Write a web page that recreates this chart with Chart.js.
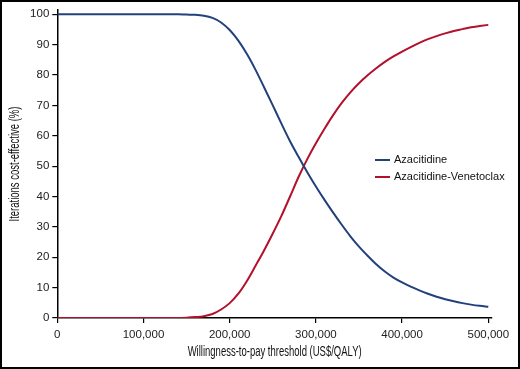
<!DOCTYPE html>
<html>
<head>
<meta charset="utf-8">
<script src="https://cdn.jsdelivr.net/npm/chart.js@4/dist/chart.umd.min.js"></script>
<style>
  html, body { margin: 0; padding: 0; background: #fff; }
  #wrap { position: relative; width: 520px; height: 369px; box-sizing: border-box; border: 2px solid #000; }
  canvas { position: absolute; left: -2px; top: -2px; }
</style>
</head>
<body>
<div id="wrap"><canvas id="c" width="520" height="369"></canvas></div>
<script>
// Willingness-to-pay thresholds (US$/QALY)
const wtp = [0,10000,20000,30000,40000,50000,60000,70000,80000,90000,
  100000,110000,120000,130000,140000,150000,160000,170000,180000,190000,
  200000,210000,220000,230000,240000,250000,260000,270000,280000,290000,
  300000,310000,320000,330000,340000,350000,360000,370000,380000,390000,
  400000,410000,420000,430000,440000,450000,460000,470000,480000,490000,500000];

// % iterations cost-effective
const azacitidine = [100,100,100,100,100,100,100,100,100,100,
  100,100,100,100,100,99.9,99.8,99.5,98.8,97.3,
  94.8,91.3,86.9,81.7,75.9,70.0,64.0,58.2,53.0,48.0,
  43.3,38.9,34.7,30.7,26.9,23.5,20.5,17.7,15.3,13.3,
  11.7,10.3,9.1,8.0,7.0,6.2,5.5,4.9,4.4,4.0,3.7];

const azaVen = [0,0,0,0,0,0,0,0,0,0,
  0,0,0,0,0,0.1,0.3,0.6,1.3,2.8,
  4.9,8.0,12.2,17.2,22.3,27.8,33.6,40.0,46.5,52.3,
  57.5,62.3,66.8,70.8,74.3,77.3,79.9,82.2,84.3,86.1,
  87.7,89.2,90.6,91.8,92.8,93.7,94.5,95.1,95.7,96.1,96.5];

const xTicks = [0,100000,200000,300000,400000,500000];
const yTicks = [0,10,20,30,40,50,60,70,80,90,100];

const seriesNames = ['Azacitidine', 'Azacitidine-Venetoclax'];
const xTitle = 'Willingness-to-pay threshold (US$/QALY)';
const yTitle = 'Iterations cost-effective (%)';
const colors = ['#22417b', '#b3102c'];

const tickFont = { family: "'Liberation Sans', Arial, sans-serif", size: 11.5 };

const overlayPlugin = {
  id: 'overlay',
  afterDraw(chart) {
    const ctx = chart.ctx;
    const a = chart.chartArea;
    ctx.save();
    // legend
    const x0 = 375, y0 = 160, dy = 17;
    ctx.font = "11px 'Liberation Sans', Arial, sans-serif";
    ctx.textBaseline = 'middle';
    ctx.textAlign = 'left';
    seriesNames.forEach((n, i) => {
      const y = y0 + i * dy;
      ctx.strokeStyle = colors[i];
      ctx.lineWidth = 2;
      ctx.beginPath(); ctx.moveTo(x0, y); ctx.lineTo(x0 + 15, y); ctx.stroke();
      ctx.fillStyle = '#111';
      ctx.fillText(n, x0 + 19, y);
    });
    // condensed axis titles
    ctx.font = "15px 'Liberation Sans', Arial, sans-serif";
    ctx.fillStyle = '#111';
    ctx.textAlign = 'center';
    const w = ctx.measureText(xTitle).width;
    const k = 174 / w;
    ctx.save();
    ctx.translate((a.left + a.right) / 2, 352);
    ctx.scale(k, 1);
    ctx.fillText(xTitle, 0, 0);
    ctx.restore();
    ctx.save();
    ctx.translate(15, (a.top + a.bottom) / 2);
    ctx.rotate(-Math.PI / 2);
    ctx.scale(k, 1);
    ctx.fillText(yTitle, 0, 0);
    ctx.restore();
    ctx.restore();
  }
};

new Chart(document.getElementById('c'), {
  type: 'line',
  data: {
    datasets: [
      { label: seriesNames[0], data: wtp.map((x, i) => ({ x, y: azacitidine[i] })), borderColor: colors[0], borderWidth: 2, pointRadius: 0, cubicInterpolationMode: 'monotone', fill: false },
      { label: seriesNames[1], data: wtp.map((x, i) => ({ x, y: azaVen[i] })), borderColor: colors[1], borderWidth: 2, pointRadius: 0, cubicInterpolationMode: 'monotone', fill: false }
    ]
  },
  options: {
    responsive: false,
    animation: false,
    devicePixelRatio: 1,
    layout: { padding: { top: 10, right: 28, left: 0, bottom: 0 } },
    plugins: { legend: { display: false }, tooltip: { enabled: false } },
    scales: {
      x: {
        type: 'linear', min: 0, max: 504300,
        afterBuildTicks: s => { s.ticks = xTicks.map(v => ({ value: v })); },
        afterFit: s => { s.height = 51; },
        ticks: { color: '#222', font: tickFont, padding: 5, maxRotation: 0,
          callback: v => v.toLocaleString('en-US') },
        grid: { drawOnChartArea: false, drawTicks: true, tickLength: 5, color: '#000', lineWidth: 1.2 },
        border: { color: '#000', width: 1.5 }
      },
      y: {
        type: 'linear', min: 0, max: 101.4,
        afterBuildTicks: s => { s.ticks = yTicks.map(v => ({ value: v })); },
        afterFit: s => { s.width = 57.3; },
        ticks: { color: '#222', font: tickFont, padding: 3 },
        grid: { drawOnChartArea: false, drawTicks: true, tickLength: 5, color: '#000', lineWidth: 1.2 },
        border: { color: '#000', width: 1.5 }
      }
    }
  },
  plugins: [overlayPlugin]
});
</script>
</body>
</html>
